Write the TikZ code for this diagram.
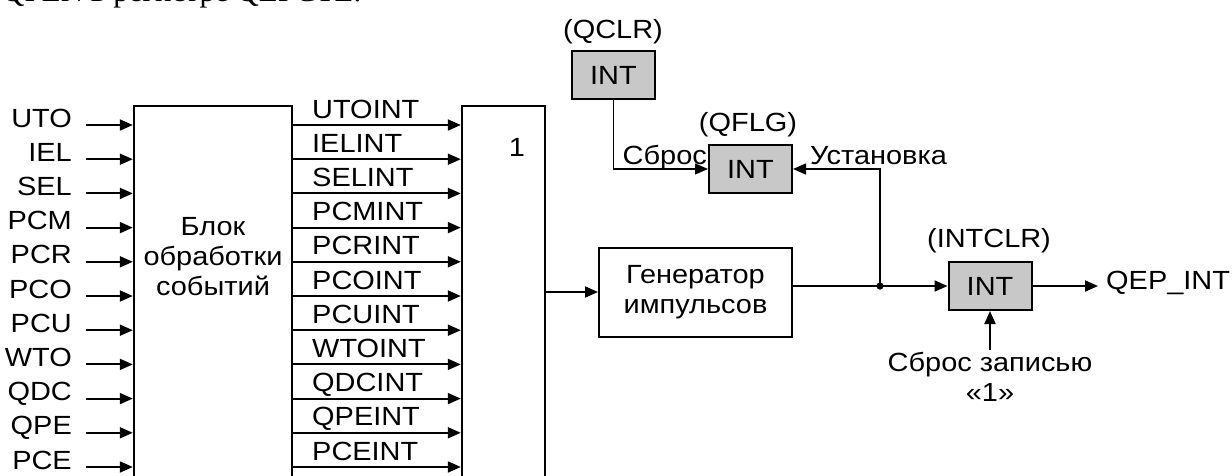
\documentclass[tikz,border=0pt]{standalone}
\usepackage{fontspec}
\setmainfont{Liberation Sans}[FakeStretch=1.1]
\newfontfamily\serifpart{Liberation Serif}
\usetikzlibrary{arrows.meta}
\definecolor{boxgrey}{RGB}{200,200,200}
\begin{document}
\begin{tikzpicture}[x=1pt,y=-1pt,
  every node/.style={font=\fontsize{26.3}{30}\selectfont, inner sep=0pt},
  blk/.style={draw, line width=2.4pt, minimum width=#1},
  intbox/.style={draw, line width=2pt, fill=boxgrey, minimum width=83pt, minimum height=48pt},
  arr/.style={line width=1.9pt, -{Triangle[length=13pt,width=11pt]}},
  thinarr/.style={line width=1.3pt, -{Triangle[length=13pt,width=11pt]}},
  plain/.style={line width=1.9pt}]
\useasboundingbox (0,0) rectangle (1232,475);
\clip (0,0) rectangle (1232,475);
% cut-off text line at the top
\node[anchor=base west, font=\serifpart\fontsize{31}{36}\selectfont] (toptext) at (2,1) {QPEN в регистре QEPCTL.};
% main blocks
\node[blk=158pt, minimum height=390pt] (ev) at (213,301) {};
\node[align=center] (evtext) at (213,257) {Блок\\обработки\\событий};
\node[blk=83pt, minimum height=390pt] (or) at (503.5,301) {};
\node (ortext) at (517,147) {1};
% inputs and event outputs
\foreach \lbl/\olbl [count=\i from 0] in {UTO/UTOINT,IEL/IELINT,SEL/SELINT,PCM/PCMINT,PCR/PCRINT,PCO/PCOINT,PCU/PCUINT,WTO/WTOINT,QDC/QDCINT,QPE/QPEINT,PCE/PCEINT}{
  \pgfmathsetmacro{\yy}{125+34.2*\i}
  \node[anchor=base east] (il\i) at (72,\yy+2) {\lbl};
  \coordinate (is\i) at (86,\yy);
  \draw[arr] (is\i) -- (is\i -| ev.west);
  \coordinate (os\i) at (ev.east |- is\i);
  \draw[arr] (os\i) -- (os\i -| or.west);
  \node[anchor=base west] (ol\i) at (312,\yy-7) {\olbl};
}
% generator
\node[blk=193pt, minimum height=89pt, line width=2pt, align=center] (gen) at (695.5,292.5) {Генератор\\импульсов};
\coordinate (orout) at (or.east |- 0,292);
\draw[arr] (orout) -- (orout -| gen.west);
% interrupt flags
\node[intbox] (qclr) at (613.5,75) {INT};
\node (qclrl) at (613,32) {(QCLR)};
\node[intbox] (qflg) at (750.5,169) {INT};
\node (qflgl) at (748,125) {(QFLG)};
\node[intbox] (intclr) at (990,286) {INT};
\node (intclrl) at (989,241) {(INTCLR)};
\coordinate (genout) at (gen.east |- 0,286);
\coordinate (dot) at (880,286);
\draw[plain] (genout) -- (dot);
\fill (dot) circle (3.6pt);
\draw[arr] (dot) -- (intclr.west);
\draw[thinarr] (dot) |- (qflg.east);
\draw[thinarr] (qclr.south) |- (qflg.west);
\node[anchor=base east] (sbr) at (707,164) {Сброс};
\node[anchor=base west] (ust) at (810,164) {Установка};
\coordinate (qepend) at (1098,286);
\draw[arr] (intclr.east) -- (qepend);
\node[anchor=west] (qep) at (1106,283) {QEP\_INT};
\coordinate (rstart) at (990,350);
\draw[arr] (rstart) -- (intclr.south);
\node[align=center, anchor=north] (rtext) at (990,352) {Сброс записью\\«1»};
\end{tikzpicture}
\end{document}
